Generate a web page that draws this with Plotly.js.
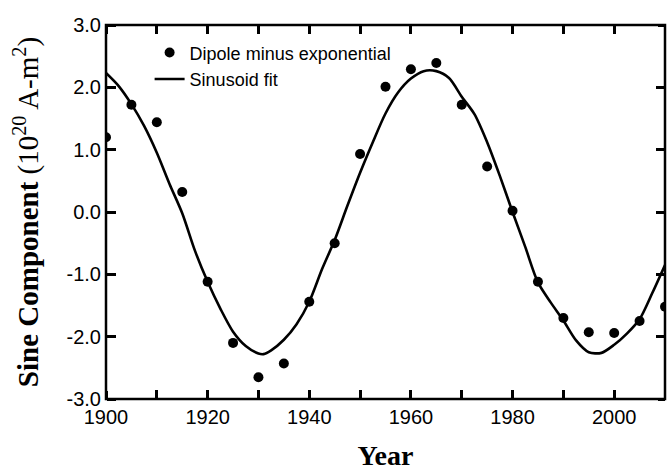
<!DOCTYPE html>
<html>
<head>
<meta charset="utf-8">
<script src="https://cdn.plot.ly/plotly-3.0.1.min.js"></script>
<style>html,body{margin:0;padding:0;background:#fff;}#chart{width:672px;height:472px;}</style>
</head>
<body>
<div id="chart"></div>
<script>
// Observed data: dipole minus exponential
const obsYears = [1900,1905,1910,1915,1920,1925,1930,1935,1940,1945,1950,1955,1960,1965,1970,1975,1980,1985,1990,1995,2000,2005,2010];
const obsValues = [1.20,1.72,1.44,0.32,-1.12,-2.10,-2.65,-2.43,-1.44,-0.50,0.93,2.01,2.29,2.39,1.72,0.73,0.02,-1.12,-1.70,-1.93,-1.94,-1.75,-1.52];

// Sinusoid fit curve
const fitYears = [1900,1902.5,1905,1907.5,1910,1912.5,1915,1917.5,1920,1922.5,1925,1927.5,1930,1931,1932.5,1935,1937.5,1940,1942.5,1945,1947.5,1950,1952.5,1955,1957.5,1960,1962.5,1965,1967.5,1970,1972.5,1975,1977.5,1980,1982.5,1985,1987.5,1990,1992.5,1995,1997.5,2000,2002.5,2005,2007.5,2010];
const fitValues = [2.23,2.02,1.73,1.38,0.95,0.45,-0.02,-0.62,-1.12,-1.55,-1.92,-2.15,-2.27,-2.28,-2.22,-2.05,-1.80,-1.44,-0.92,-0.45,0.10,0.63,1.12,1.58,1.92,2.14,2.26,2.26,2.15,1.85,1.57,1.12,0.58,0.00,-0.56,-1.13,-1.45,-1.74,-2.06,-2.25,-2.26,-2.13,-1.95,-1.72,-1.30,-0.85];

// Tick labels
const yTickVals = [-3,-2,-1,0,1,2,3];
const yTickText = ["-3.0","-2.0","-1.0","0.0","1.0","2.0","3.0"];
const xTickVals = [1900,1910,1920,1930,1940,1950,1960,1970,1980,1990,2000];
const xTickText = ["1900","","1920","","1940","","1960","","1980","","2000"];
const xRange = [1900, 2010];
const yRange = [-3, 3];

const traces = [
  {
    x: obsYears, y: obsValues, type: 'scatter', mode: 'markers',
    name: 'Dipole minus exponential',
    marker: {color: '#000', size: 10}
  },
  {
    x: fitYears, y: fitValues, type: 'scatter', mode: 'lines',
    name: 'Sinusoid fit',
    line: {color: '#000', width: 2.6, shape: 'spline', smoothing: 0.8}
  },
  // empty helper traces so the tick-only frame axes get drawn
  {x: [], y: [], type: 'scatter', mode: 'markers', xaxis: 'x2', yaxis: 'y', showlegend: false, hoverinfo: 'skip'},
  {x: [], y: [], type: 'scatter', mode: 'markers', xaxis: 'x3', yaxis: 'y', showlegend: false, hoverinfo: 'skip'},
  {x: [], y: [], type: 'scatter', mode: 'markers', xaxis: 'x', yaxis: 'y2', showlegend: false, hoverinfo: 'skip'},
  {x: [], y: [], type: 'scatter', mode: 'markers', xaxis: 'x', yaxis: 'y3', showlegend: false, hoverinfo: 'skip'}
];

function tickAxis(extra) {
  return Object.assign({
    showline: false, showgrid: false, zeroline: false, showticklabels: false,
    ticks: 'outside', tickwidth: 2.5, tickcolor: '#000', automargin: false
  }, extra);
}

const layout = {
  width: 672, height: 472,
  margin: {l: 106, r: 7, t: 25, b: 73},
  showlegend: true,
  legend: {
    x: 0.078, y: 0.975, xanchor: 'left', yanchor: 'top',
    bgcolor: 'rgba(0,0,0,0)',
    font: {family: 'Liberation Sans, Arial, sans-serif', size: 18, color: '#000'},
    tracegroupgap: 0
  },
  shapes: [
    {type: 'rect', xref: 'paper', yref: 'paper', x0: 0, x1: 1, y0: 0, y1: 1,
     line: {color: '#000', width: 2.5}, fillcolor: 'rgba(0,0,0,0)', layer: 'above'}
  ],
  xaxis: {
    range: xRange,
    tickmode: 'array', tickvals: xTickVals, ticktext: xTickText,
    ticks: 'inside', ticklen: 9, tickwidth: 3, tickcolor: '#000',
    showline: true, linecolor: '#000', mirror: 'ticks',
    showgrid: false, zeroline: false,
    tickfont: {family: 'Liberation Sans, Arial, sans-serif', size: 20, color: '#000'},
    title: {text: '<b>Year</b>', font: {family: 'Liberation Serif, Times New Roman, serif', size: 28, color: '#000'}, standoff: 18},
    automargin: false
  },
  yaxis: {
    range: yRange,
    tickmode: 'array', tickvals: yTickVals, ticktext: yTickText,
    ticks: 'inside', ticklen: 9, tickwidth: 3, tickcolor: '#000',
    showline: true, linecolor: '#000', mirror: 'ticks',
    showgrid: false, zeroline: false,
    tickfont: {family: 'Liberation Sans, Arial, sans-serif', size: 20, color: '#000'},
    title: {text: '<b>Sine Component</b> (10<sup>20</sup> A-m<sup>2</sup>)', font: {family: 'Liberation Serif, Times New Roman, serif', size: 29, color: '#000'}},
    automargin: false
  },
  // tick-only axes that point into the plot from each side of the frame
  xaxis2: tickAxis({overlaying: 'x', anchor: 'free', position: 0, side: 'top', range: xRange, tickmode: 'array', tickvals: xTickVals, ticklen: 8}),
  xaxis3: tickAxis({overlaying: 'x', anchor: 'free', position: 1, side: 'bottom', range: xRange, tickmode: 'array', tickvals: xTickVals, ticklen: 8}),
  yaxis2: tickAxis({overlaying: 'y', anchor: 'free', position: 0, side: 'right', range: yRange, tickmode: 'array', tickvals: yTickVals, ticklen: 9}),
  yaxis3: tickAxis({overlaying: 'y', anchor: 'free', position: 1, side: 'left', range: yRange, tickmode: 'array', tickvals: yTickVals, ticklen: 7})
};

Plotly.newPlot('chart', traces, layout, {displayModeBar: false});
</script>
</body>
</html>
